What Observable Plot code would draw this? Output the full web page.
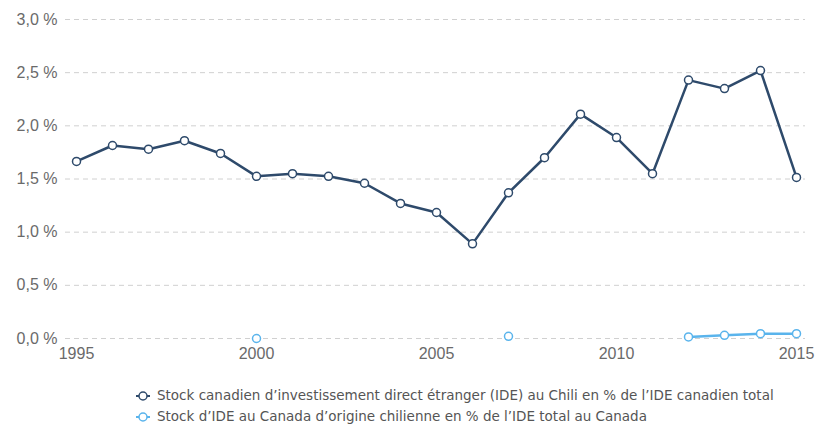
<!DOCTYPE html>
<html><head><meta charset="utf-8">
<script src="https://cdn.jsdelivr.net/npm/d3@7"></script>
<script src="https://cdn.jsdelivr.net/npm/@observablehq/plot@0.6"></script>
<style>
body{margin:0;background:#fff;}
#legend{font-family:"DejaVu Sans",sans-serif;font-size:13.5px;color:#555;margin-left:136px;margin-top:15px;line-height:21px;}
.li{display:flex;align-items:center;}
.li svg{margin-right:7px;}
</style></head>
<body><div id="chart"></div><div id="legend"></div>
<script>
const years = d3.range(1995, 2016);
const canInChile = [1.665,1.815,1.78,1.86,1.74,1.525,1.55,1.525,1.46,1.27,1.185,0.89,1.37,1.70,2.11,1.89,1.55,2.43,2.35,2.52,1.515];
const chileInCan = [null,null,null,null,null,0.0,null,null,null,null,null,null,0.02,null,null,null,null,0.015,0.03,0.045,0.045];
const seriesNames = ["Stock canadien d’investissement direct étranger (IDE) au Chili en % de l’IDE canadien total",
  "Stock d’IDE au Canada d’origine chilienne en % de l’IDE total au Canada"];
const colors = ["#2e4a6b", "#5ab4ec"];
const yTicks = [0, 0.5, 1, 1.5, 2, 2.5, 3];
const xTicks = [1995, 2000, 2005, 2010, 2015];

const d1 = years.map((y,i)=>({year:y, v:canInChile[i]}));
const d2 = years.map((y,i)=>({year:y, v:chileInCan[i]}));
const fmt = d => d.toFixed(1).replace(".", ",") + " %";

const chart = Plot.plot({
  width: 815, height: 370,
  marginLeft: 76, marginRight: 19, marginTop: 19, marginBottom: 32,
  style: {fontFamily: "Liberation Sans, Arial, sans-serif", fontSize: "16px", color: "#6a6a6a"},
  x: {domain: [1995, 2015], ticks: xTicks, tickFormat: d => String(d), tickSize: 0, tickPadding: 9, label: null},
  y: {domain: [0, 3], ticks: yTicks, tickFormat: fmt, tickSize: 0, tickPadding: 19, label: null},
  marks: [
    Plot.ruleY(yTicks, {stroke: "#d0d0d0", strokeDasharray: "5,4", strokeWidth: 1, insetLeft: -11, insetRight: -9}),
    Plot.line(d1, {x: "year", y: "v", stroke: colors[0], strokeWidth: 2.5}),
    Plot.dot(d1, {x: "year", y: "v", r: 4, fill: "white", stroke: colors[0], strokeWidth: 1.5}),
    Plot.line(d2.filter(d=>d.year>=2012), {x: "year", y: "v", stroke: colors[1], strokeWidth: 2.5}),
    Plot.dot(d2.filter(d=>d.v!=null), {x: "year", y: "v", r: 4, fill: "white", stroke: colors[1], strokeWidth: 1.5})
  ]
});
document.getElementById("chart").appendChild(chart);

const leg = document.getElementById("legend");
seriesNames.forEach((n,i)=>{
  const div = document.createElement("div"); div.className="li";
  div.innerHTML = `<svg width="14" height="14"><line x1="0" y1="7" x2="14" y2="7" stroke="${colors[i]}" stroke-width="2"/><circle cx="7" cy="7" r="4" fill="white" stroke="${colors[i]}" stroke-width="1.5"/></svg><span>${n}</span>`;
  leg.appendChild(div);
});
</script></body></html>
